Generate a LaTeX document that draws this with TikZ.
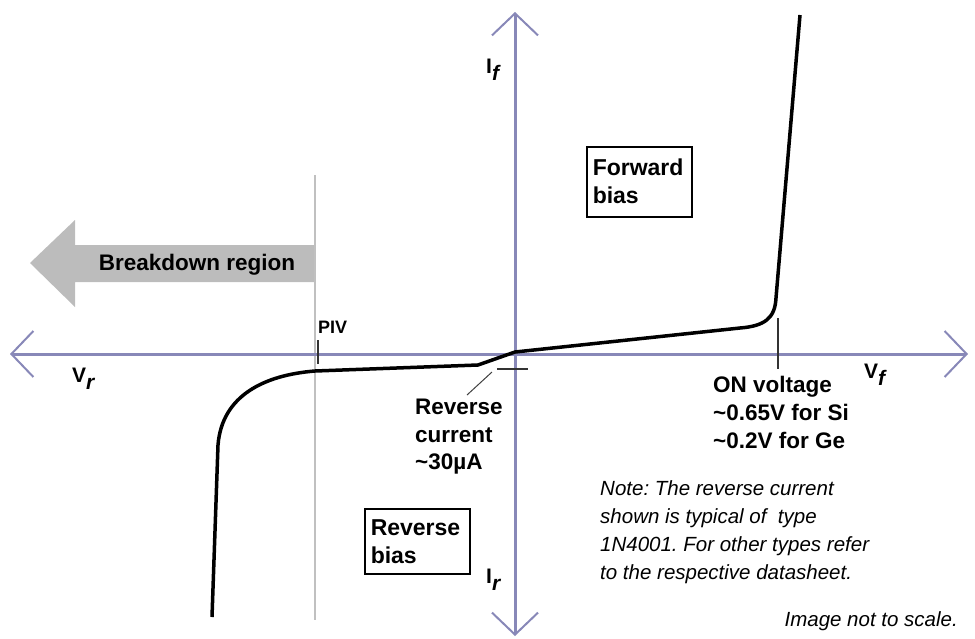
\documentclass[tikz,border=0pt]{standalone}
\usepackage{fontspec}
\setmainfont{Liberation Sans}
\usetikzlibrary{arrows.meta}
\definecolor{axiscol}{RGB}{136,136,184}
\definecolor{limitgray}{RGB}{192,192,192}
\definecolor{regiongray}{RGB}{188,188,188}
\newcommand{\sublabel}[2]{#1\raisebox{-7pt}{\itshape #2}}
\frenchspacing
\begin{document}
\begin{tikzpicture}[x=1pt,y=-1pt]
    \tikzset{axis/.style = {draw=axiscol, line width=3pt, <->, > = {Straight Barb[length=22pt, width=46pt, line width=2pt]}}}
    \tikzset{lbl/.style = {inner sep=0pt, font=\fontsize{22.5}{27.5}\selectfont\bfseries, align=left}}
    \tikzset{axlabel/.style = {inner sep=0pt, font=\fontsize{21}{21}\selectfont\bfseries}}
    \tikzset{note/.style = {inner sep=0pt, font=\fontsize{20.5}{28}\selectfont\itshape, align=left}}
    \tikzset{biasbox/.style = {draw, line width=1.5pt, inner sep=6pt, text width=93pt, align=left, anchor=north west, minimum width=105pt, font=\fontsize{23}{28}\selectfont\bfseries}}
    \tikzset{ivcurve/.style = {line width=3.5pt, line join=round}}
    \useasboundingbox (0,0) rectangle (975,638);
    % breakdown region arrow and PIV limit
    \fill[regiongray] (314,245) -- (75,245) -- (75,220) -- (30,263) -- (75,307) -- (75,282) -- (314,282) -- cycle;
    \coordinate (pivtop) at (315,175);
    \coordinate (pivbot) at (315,620);
    \draw[limitgray, line width=2pt] (pivtop) -- (pivbot);
    % axes
    \coordinate (vr) at (10,354);
    \coordinate (vf) at (968,354);
    \coordinate (if) at (515,12);
    \coordinate (ir) at (515,636);
    \draw[axis] (vr) -- (vf);
    \draw[axis] (ir) -- (if);
    % ticks
    \coordinate (piv1) at (318,340);
    \coordinate (piv2) at (318,364);
    \coordinate (on1) at (778,318);
    \coordinate (on2) at (778,369);
    \coordinate (rc1) at (497,369);
    \coordinate (rc2) at (528,369);
    \draw[line width=1.5pt, black!80] (piv1) -- (piv2);
    \draw[line width=1.5pt, black!80] (on1) -- (on2);
    \draw[line width=1.5pt, black!80] (rc1) -- (rc2);
    % diode characteristic
    \draw[ivcurve] (212,617) -- (218,445) .. controls (222,395) and (265,375) .. (315,371)
        -- (478,365) -- (515,352) -- (740,328) .. controls (765,326) and (775,318) .. (776,298) -- (800,15);
    % labels
    \node[lbl, anchor=base] (brk) at (197,270) {Breakdown region};
    \node[lbl, anchor=base west, font=\fontsize{18}{18}\selectfont\bfseries] (piv) at (318,333) {PIV};
    \node[axlabel, anchor=base west] (vrlab) at (72,382) {\sublabel{V}{r}};
    \node[axlabel, anchor=base west] (vflab) at (864,378) {\sublabel{V}{f}};
    \node[axlabel, anchor=base west] (iflab) at (486,73) {\sublabel{I}{f}};
    \node[axlabel, anchor=base west] (irlab) at (486,583) {\sublabel{I}{r}};
    \node[lbl, anchor=north west] (rcur) at (415,399) {Reverse\\current\\\textasciitilde30µA};
    \coordinate (lead) at (492,372);
    \draw[line width=1pt, black!75] (rcur.north west) ++(52,-4) -- (lead);
    \node[lbl, anchor=north west, font=\fontsize{22.5}{28}\selectfont\bfseries] (onv) at (713,376) {ON voltage\\\textasciitilde0.65V for Si\\\textasciitilde0.2V for Ge};
    \node[biasbox, minimum height=70pt] (fwd) at (586,146) {Forward\\bias};
    \node[biasbox, minimum height=65pt] (rev) at (364,508) {Reverse\\bias};
    \node[note, anchor=north west] (nt) at (600,480) {Note: The reverse current\\shown is typical of~ type\\1N4001. For other types refer\\to the respective datasheet.};
    \node[note, anchor=base east] (scale) at (958,626) {Image not to scale.};
\end{tikzpicture}
\end{document}
